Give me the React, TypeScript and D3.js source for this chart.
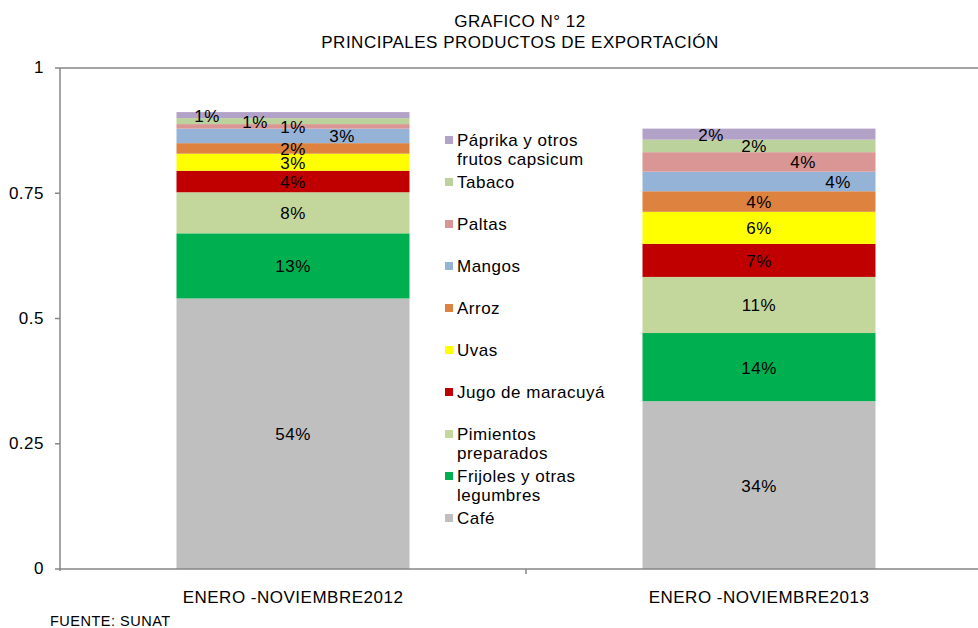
import React, { useEffect } from "react";
import * as d3 from "d3";

const categories = ["ENERO -NOVIEMBRE2012", "ENERO -NOVIEMBRE2013"];

const seriesNames = [
  "Café",
  "Frijoles y otras legumbres",
  "Pimientos preparados",
  "Jugo de maracuyá",
  "Uvas",
  "Arroz",
  "Mangos",
  "Paltas",
  "Tabaco",
  "Páprika y otros frutos capsicum",
];

// legend text is wrapped like in the original
const legendLines = [
  ["Café"],
  ["Frijoles y otras", "legumbres"],
  ["Pimientos", "preparados"],
  ["Jugo de maracuyá"],
  ["Uvas"],
  ["Arroz"],
  ["Mangos"],
  ["Paltas"],
  ["Tabaco"],
  ["Páprika y otros", "frutos capsicum"],
];

const values2012 = [0.54, 0.13, 0.082, 0.043, 0.034, 0.021, 0.029, 0.009, 0.012, 0.012];
const values2013 = [0.335, 0.136, 0.112, 0.066, 0.064, 0.041, 0.039, 0.039, 0.025, 0.022];

const labels2012 = ["54%", "13%", "8%", "4%", "3%", "2%", "3%", "1%", "1%", "1%"];
const labels2013 = ["34%", "14%", "11%", "7%", "6%", "4%", "4%", "4%", "2%", "2%"];

const yTicks = [0, 0.25, 0.5, 0.75, 1];

const colors = [
  "#BFBFBF",
  "#00B050",
  "#C3D69B",
  "#C00000",
  "#FFFF00",
  "#DE823F",
  "#95B3D7",
  "#D99694",
  "#BCD29C",
  "#B3A2C7",
];

// data labels that Excel pushed sideways to avoid overlaps
const labelShift = [
  [0, 0, 0, 0, 0, 0, 49, 0, -38, -86],
  [0, 0, 0, 0, 0, 0, 79, 44, -5, -48],
];

const font = "'Liberation Sans', Arial, sans-serif";
const ls = 0.5;

const App = () => {
  useEffect(() => {
    document.body.style.margin = "0";
  }, []);

  const width = 978,
    height = 628;
  const margin = { left: 60, top: 68, bottom: 569 };

  const x = d3.scaleBand().domain(categories).range([margin.left, margin.left + 932]).paddingInner(0).paddingOuter(0);
  const y = d3.scaleLinear().domain([0, 1]).range([margin.bottom, margin.top]);

  const rows = categories.map((c, i) => {
    const vals = i === 0 ? values2012 : values2013;
    const row: any = { cat: c };
    seriesNames.forEach((s, j) => (row[s] = vals[j]));
    return row;
  });
  const stacked = d3.stack().keys(seriesNames)(rows);
  const barW = x.bandwidth() / 2;

  return (
    <svg width={width} height={height} style={{ display: "block", fontFamily: font, letterSpacing: ls }}>
      <rect width={width} height={height} fill="#fff" />
      <text x={520} y={23} textAnchor="middle" dominantBaseline="middle" fontSize={17}>
        GRAFICO N° 12
      </text>
      <text x={520} y={44} textAnchor="middle" dominantBaseline="middle" fontSize={17}>
        PRINCIPALES PRODUCTOS DE EXPORTACIÓN
      </text>

      {/* bars */}
      {stacked.map((layer, j) =>
        layer.map((d, i) => {
          const cx = x(categories[i])! + x.bandwidth() / 2;
          return (
            <rect
              key={j + "-" + i}
              x={cx - barW / 2}
              y={y(d[1])}
              width={barW}
              height={y(d[0]) - y(d[1])}
              fill={colors[j]}
            />
          );
        })
      )}
      {stacked.map((layer, j) =>
        layer.map((d, i) => {
          const cx = x(categories[i])! + x.bandwidth() / 2;
          const lbl = i === 0 ? labels2012[j] : labels2013[j];
          return (
            <text
              key={"l" + j + "-" + i}
              x={cx + labelShift[i][j]}
              y={(y(d[0]) + y(d[1])) / 2 + 2}
              textAnchor="middle"
              dominantBaseline="middle"
              fontSize={17}
              fill="#000"
            >
              {lbl}
            </text>
          );
        })
      )}

      {/* axes */}
      <line x1={margin.left} x2={width} y1={y(1)} y2={y(1)} stroke="#868686" strokeWidth={1.5} />
      <line x1={margin.left} x2={margin.left} y1={y(1)} y2={y(0) + 2} stroke="#868686" strokeWidth={1.5} />
      <line x1={margin.left} x2={width} y1={y(0)} y2={y(0)} stroke="#868686" strokeWidth={1.5} />
      {yTicks.map((t) => (
        <g key={t}>
          <line x1={margin.left - 5} x2={margin.left} y1={y(t)} y2={y(t)} stroke="#868686" strokeWidth={1.5} />
          <text x={44} y={y(t) + 1} textAnchor="end" dominantBaseline="middle" fontSize={17}>
            {t}
          </text>
        </g>
      ))}
      <line x1={x(categories[1])} x2={x(categories[1])} y1={y(0)} y2={y(0) + 5} stroke="#868686" strokeWidth={1.5} />
      {categories.map((c) => (
        <text key={c} x={x(c)! + x.bandwidth() / 2} y={599} textAnchor="middle" dominantBaseline="middle" fontSize={17}>
          {c}
        </text>
      ))}

      {/* legend, top item is the last series */}
      {seriesNames
        .map((s, j) => j)
        .reverse()
        .map((j, k) => {
          const cy = 140 + 42 * k;
          return (
            <g key={"lg" + j}>
              <rect x={445} y={cy - 4} width={8} height={8} fill={colors[j]} />
              {legendLines[j].map((ln, li) => (
                <text key={li} x={457} y={cy + 2 + li * 19} dominantBaseline="middle" fontSize={17}>
                  {ln}
                </text>
              ))}
            </g>
          );
        })}

      <text x={50} y={622} dominantBaseline="middle" fontSize={14.5}>
        FUENTE: SUNAT
      </text>
    </svg>
  );
};

export default App;
